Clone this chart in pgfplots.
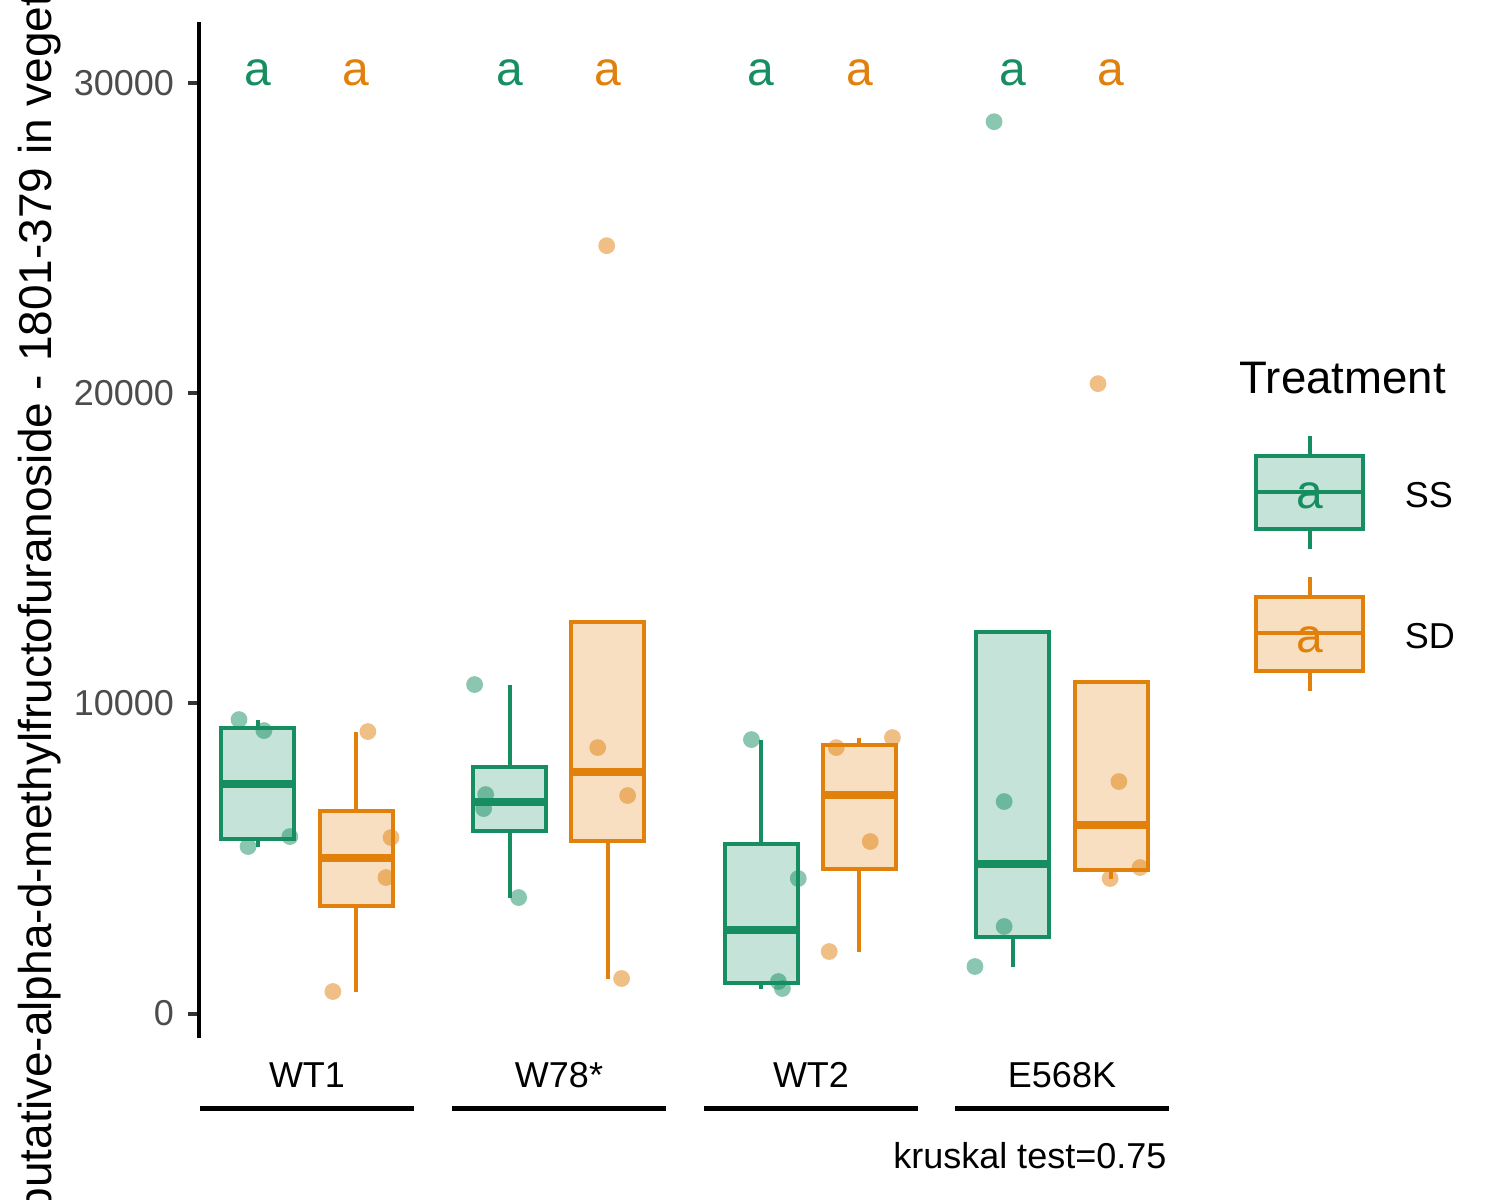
\documentclass[border=0pt]{standalone}
\usepackage{pgfplots}
\pgfplotsset{compat=1.18}
\usepackage{pgfplotstable}
\usepackage{fontspec}
\setmainfont{Liberation Sans}
\definecolor{ssg}{RGB}{22,142,98}
\definecolor{sdo}{RGB}{226,128,12}

\pgfplotstableread{
x y
0.730 9475
0.829 9120
0.932 5704
0.766 5382
1.666 10603
1.710 7058
1.702 6606
1.841 3738
2.766 8830
2.952 4351
2.873 1031
2.889 806
3.654 1515
3.770 2804
3.770 6832
3.730 28746
}\ssdata
\pgfplotstableread{
x y
1.242 9088
1.334 5672
1.314 4383
1.103 709
2.155 8572
2.274 7025
2.250 1128
2.191 24750
3.326 8895
3.103 8572
3.238 5543
3.075 1998
4.143 20303
4.226 7477
4.310 4705
4.191 4351
}\sddata

% box: #1 colour, #2 left, #3 centre, #4 right, #5 lower whisker, #6 Q1, #7 median, #8 Q3, #9 upper whisker
\newcommand{\gbox}[9]{%
  \addplot[draw=#1, line width=1pt] coordinates {(#3,#5) (#3,#6) (nan,nan) (#3,#8) (#3,#9)};
  \addplot[draw=#1, fill=#1!25!white, line width=1pt, line cap=rect] coordinates {(#2,#6) (#4,#6) (#4,#8) (#2,#8) (#2,#6)};
  \addplot[draw=#1, line width=2pt] coordinates {(#2,#7) (#4,#7)};
}

\begin{document}
\begin{tikzpicture}
\useasboundingbox (0,0) rectangle (375pt,-300pt);
\clip (0,0) rectangle (375pt,-300pt);
\begin{axis}[
  at={(49.75pt,-259.5pt)}, anchor=south west,
  scale only axis, width=242.75pt, height=254pt,
  xmin=0.571, xmax=4.429, ymin=-790, ymax=31960,
  axis x line=none, axis y line*=left,
  y axis line style={line width=1pt, black},
  ytick={0,10000,20000,30000},
  tick align=outside, major tick length=2.75pt,
  ytick style={line width=1pt, color=black!80},
  yticklabel style={font=\fontsize{9}{10}\selectfont, text=black!70},
  /pgf/number format/assume math mode=true,
  /pgf/number format/1000 sep={},
  scaled y ticks=false,
  unbounded coords=jump,
  clip=false,
]
% boxes (R type-7 quantiles of the points)
\gbox{ssg}{0.66}{0.805}{0.95}{5382}{5623.5}{7412}{9208.75}{9475}
\gbox{sdo}{1.05}{1.195}{1.34}{709}{3464.5}{5027.5}{6526}{9088}
\gbox{ssg}{1.66}{1.805}{1.95}{3738}{5889}{6832}{7944}{10603}
\gbox{sdo}{2.05}{2.195}{2.34}{1128}{5551}{7798.5}{12616.5}{12616.5}
\gbox{ssg}{2.66}{2.805}{2.95}{806}{974.75}{2691}{5470.75}{8830}
\gbox{sdo}{3.05}{3.195}{3.34}{1998}{4656.75}{7057.5}{8652.75}{8895}
\gbox{ssg}{3.66}{3.805}{3.95}{1515}{2481.75}{4818}{12310.5}{12310.5}
\gbox{sdo}{4.05}{4.195}{4.34}{4351}{4616.5}{6091}{10683.5}{10683.5}
% jittered points
\addplot[only marks, mark=*, mark size=2.1pt, color=ssg, mark options={solid, draw opacity=0, fill=ssg, fill opacity=0.5}] table[x=x, y=y] {\ssdata};
\addplot[only marks, mark=*, mark size=2.1pt, color=sdo, mark options={solid, draw opacity=0, fill=sdo, fill opacity=0.5}] table[x=x, y=y] {\sddata};
% letters
\addplot[only marks, mark=none, nodes near coords={a},
  every node near coord/.style={anchor=base, inner sep=0pt, text=ssg, font=\fontsize{12}{13}\selectfont}]
  coordinates {(0.805,29913) (1.805,29913) (2.805,29913) (3.805,29913)};
\addplot[only marks, mark=none, nodes near coords={a},
  every node near coord/.style={anchor=base, inner sep=0pt, text=sdo, font=\fontsize{12}{13}\selectfont}]
  coordinates {(1.195,29913) (2.195,29913) (3.195,29913) (4.195,29913)};
\end{axis}
% y label
\node[rotate=90, anchor=base west, inner sep=0pt, font=\fontsize{11.5}{13}\selectfont] at (12.75pt,-303.5pt) {putative-alpha-d-methylfructofuranoside - 1801-379 in vegetative};
% group labels and strip lines
\foreach \cx/\lab in {76.75/WT1, 139.75/W78*, 202.75/WT2, 265.5/E568K} {
  \node[anchor=base, inner sep=0pt, font=\fontsize{9}{10}\selectfont] at (\cx pt,-271.75pt) {\lab};
  \draw[line width=1.25pt] ([xshift=-26.75pt]\cx pt,-277.2pt) -- ([xshift=26.75pt]\cx pt,-277.2pt);
}
\node[anchor=base east, inner sep=0pt, font=\fontsize{9}{10}\selectfont] at (291.8pt,-292pt) {kruskal test=0.75};
% legend
\node[anchor=base west, inner sep=0pt, font=\fontsize{11.4}{13}\selectfont] at (309.75pt,-98.25pt) {Treatment};
\draw[ssg, line width=1pt] (327.4pt,-109pt) -- (327.4pt,-114pt) (327.4pt,-132.25pt) -- (327.4pt,-137.25pt);
\draw[ssg, line width=1pt, fill=ssg!25!white] (314pt,-114pt) rectangle (340.75pt,-132.25pt);
\draw[ssg, line width=1pt] (314pt,-123pt) -- (340.75pt,-123pt);
\node[text=ssg, anchor=base, inner sep=0pt, font=\fontsize{12}{13}\selectfont] at (327.4pt,-127pt) {a};
\draw[sdo, line width=1pt] (327.4pt,-144.25pt) -- (327.4pt,-149.25pt) (327.4pt,-167.75pt) -- (327.4pt,-172.75pt);
\draw[sdo, line width=1pt, fill=sdo!25!white] (314pt,-149.25pt) rectangle (340.75pt,-167.75pt);
\draw[sdo, line width=1pt] (314pt,-158.25pt) -- (340.75pt,-158.25pt);
\node[text=sdo, anchor=base, inner sep=0pt, font=\fontsize{12}{13}\selectfont] at (327.4pt,-163pt) {a};
\node[anchor=base west, inner sep=0pt, font=\fontsize{9}{10}\selectfont] at (351pt,-126.75pt) {SS};
\node[anchor=base west, inner sep=0pt, font=\fontsize{9}{10}\selectfont] at (351pt,-162pt) {SD};
\end{tikzpicture}
\end{document}
